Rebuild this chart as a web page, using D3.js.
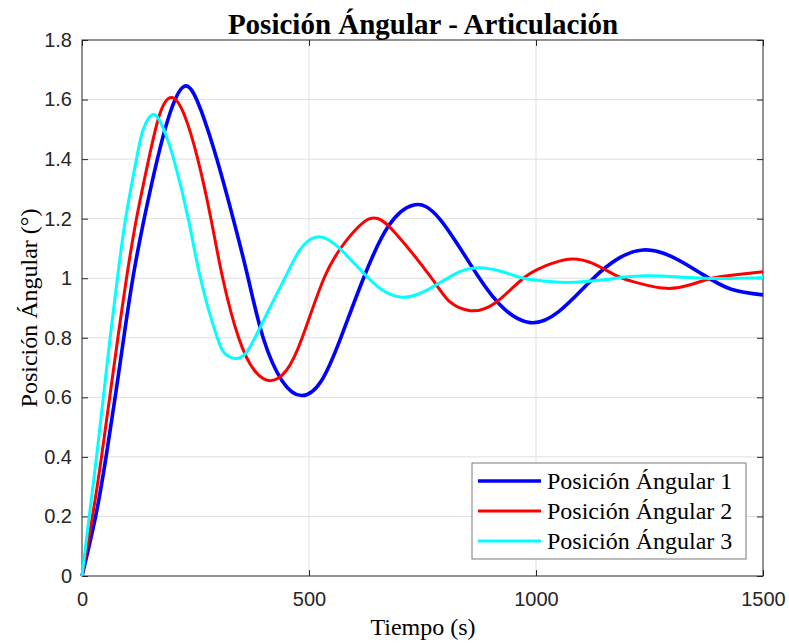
<!DOCTYPE html>
<head>
  <meta charset="utf-8">
  <script src="https://d3js.org/d3.v7.min.js"></script>
  <style>
    body { margin:0; background:#fff; }
    .tick text { font: 20px "Liberation Sans", Arial, sans-serif; fill:#262626; }
    .axis path { display:none; }
    .axis line { stroke:#262626; }
    .grid line { stroke:#dfdfdf; stroke-width:1; }
    .serif { font-family: "Liberation Serif", "Times New Roman", serif; fill:#000; }
  </style>
</head>
<body>
  <svg id="chart" width="789" height="643"></svg>
  <script>
  // time (s) and angular position, per series
  var t1 = [0, 30, 53, 73, 92, 112, 137, 166, 195, 229, 263, 297, 333, 366, 399, 441, 484, 527, 570, 620, 675, 731, 790, 871, 930, 987, 1050, 1123, 1180, 1236, 1300, 1368, 1430, 1500];
  var v1 = [0, 0.2, 0.4, 0.6, 0.8, 1.0, 1.2, 1.4, 1.56, 1.646, 1.56, 1.4, 1.2, 1.0, 0.8, 0.655, 0.606, 0.655, 0.8, 1.0, 1.175, 1.246, 1.195, 1.01, 0.897, 0.851, 0.888, 0.995, 1.065, 1.095, 1.072, 1.012, 0.963, 0.944];

  var t2 = [0, 23, 43, 61, 79, 98, 120, 147, 171, 197, 225, 255, 284, 310, 345, 380, 415, 450, 485, 533, 580, 634, 690, 770, 810, 855, 910, 972, 1020, 1071, 1125, 1178, 1230, 1288, 1340, 1387, 1440, 1500];
  var v2 = [0, 0.2, 0.4, 0.6, 0.8, 1.0, 1.2, 1.4, 1.55, 1.607, 1.55, 1.4, 1.2, 1.0, 0.8, 0.69, 0.656, 0.69, 0.8, 1.0, 1.122, 1.2, 1.152, 1.0, 0.921, 0.891, 0.917, 1.0, 1.041, 1.064, 1.05, 1.008, 0.982, 0.966, 0.978, 1.0, 1.012, 1.022];

  var t3 = [0, 16, 32, 47, 62, 78, 96, 120, 135, 158, 180, 202, 234, 261, 298, 318, 338, 359, 381, 420, 450, 480, 515, 560, 622, 660, 704, 760, 820, 873, 930, 972, 1020, 1068, 1150, 1244, 1370, 1500];
  var v3 = [0, 0.2, 0.4, 0.6, 0.8, 1.0, 1.2, 1.4, 1.5, 1.55, 1.5, 1.4, 1.2, 1.0, 0.8, 0.743, 0.73, 0.745, 0.8, 0.92, 1.01, 1.095, 1.138, 1.11, 1.014, 0.962, 0.936, 0.96, 1.013, 1.035, 1.02, 1.0, 0.99, 0.986, 0.995, 1.008, 1.0, 1.002];

  var seriesNames = ["Posición Ángular 1", "Posición Ángular 2", "Posición Ángular 3"];
  var seriesColors = ["#0000ff", "#ff0000", "#00ffff"];
  var seriesWidths = [3.6, 3, 3];

  var xTicks = [0, 500, 1000, 1500];
  var xTickLabels = ["0", "500", "1000", "1500"];
  var yTicks = [0, 0.2, 0.4, 0.6, 0.8, 1.0, 1.2, 1.4, 1.6, 1.8];
  var yTickLabels = ["0", "0.2", "0.4", "0.6", "0.8", "1", "1.2", "1.4", "1.6", "1.8"];

  var plot = {left: 82, right: 763, top: 40, bottom: 576};

  var svg = d3.select("#chart");

  var xScale = d3.scaleLinear().domain([0, 1500]).range([plot.left, plot.right]);
  var yScale = d3.scaleLinear().domain([0, 1.8]).range([plot.bottom, plot.top]);

  // grid
  var grid = svg.append("g").attr("class", "grid");
  grid.selectAll(".gx").data(xTicks.slice(1, -1)).enter().append("line")
    .attr("x1", function(d) { return xScale(d); }).attr("x2", function(d) { return xScale(d); })
    .attr("y1", plot.top).attr("y2", plot.bottom);
  grid.selectAll(".gy").data(yTicks.slice(1, -1)).enter().append("line")
    .attr("y1", function(d) { return yScale(d); }).attr("y2", function(d) { return yScale(d); })
    .attr("x1", plot.left).attr("x2", plot.right);

  // axes, ticks pointing inward like matlab
  svg.append("g").attr("class", "axis")
    .attr("transform", "translate(0," + plot.bottom + ")")
    .call(d3.axisBottom(xScale).tickValues(xTicks).tickSize(-6).tickPadding(16)
      .tickFormat(function(d, i) { return xTickLabels[i]; }));
  svg.append("g").attr("class", "axis")
    .attr("transform", "translate(0," + plot.top + ")")
    .call(d3.axisTop(xScale).tickValues(xTicks).tickSize(-6).tickFormat(""));
  svg.append("g").attr("class", "axis")
    .attr("transform", "translate(" + plot.left + ",0)")
    .call(d3.axisLeft(yScale).tickValues(yTicks).tickSize(-6).tickPadding(10)
      .tickFormat(function(d, i) { return yTickLabels[i]; }));
  svg.append("g").attr("class", "axis")
    .attr("transform", "translate(" + plot.right + ",0)")
    .call(d3.axisRight(yScale).tickValues(yTicks).tickSize(-6).tickFormat(""));

  // box
  svg.append("rect")
    .attr("x", plot.left).attr("y", plot.top)
    .attr("width", plot.right - plot.left).attr("height", plot.bottom - plot.top)
    .attr("fill", "none").attr("stroke", "#262626").attr("stroke-width", 1);

  // lines
  var line = d3.line()
    .x(function(d) { return xScale(d[0]); })
    .y(function(d) { return yScale(d[1]); })
    .curve(d3.curveNatural);

  var series = [d3.zip(t1, v1), d3.zip(t2, v2), d3.zip(t3, v3)];
  series.forEach(function(s, i) {
    svg.append("path")
      .attr("d", line(s))
      .attr("fill", "none")
      .attr("stroke", seriesColors[i])
      .attr("stroke-width", seriesWidths[i])
      .attr("stroke-linejoin", "round");
  });

  // titles
  svg.append("text").attr("class", "serif")
    .attr("x", 423).attr("y", 34)
    .attr("text-anchor", "middle")
    .style("font-size", "29px").style("font-weight", "bold")
    .text("Posición Ángular - Articulación");

  svg.append("text").attr("class", "serif")
    .attr("x", 423).attr("y", 635)
    .attr("text-anchor", "middle")
    .style("font-size", "24px")
    .text("Tiempo (s)");

  svg.append("text").attr("class", "serif")
    .attr("transform", "translate(37,308) rotate(-90)")
    .attr("text-anchor", "middle")
    .style("font-size", "24px")
    .text("Posición Ángular (°)");

  // legend
  var legend = svg.append("g");
  legend.append("rect")
    .attr("x", 472).attr("y", 463).attr("width", 274).attr("height", 96)
    .attr("fill", "#fff").attr("stroke", "#7a7a7a").attr("stroke-width", 1);
  seriesNames.forEach(function(name, i) {
    var yy = 481 + i * 30;
    legend.append("line")
      .attr("x1", 478).attr("x2", 541).attr("y1", yy).attr("y2", yy)
      .attr("stroke", seriesColors[i]).attr("stroke-width", seriesWidths[i]);
    legend.append("text").attr("class", "serif")
      .attr("x", 547).attr("y", yy + 8)
      .style("font-size", "24px")
      .text(name);
  });
  </script>
</body>
